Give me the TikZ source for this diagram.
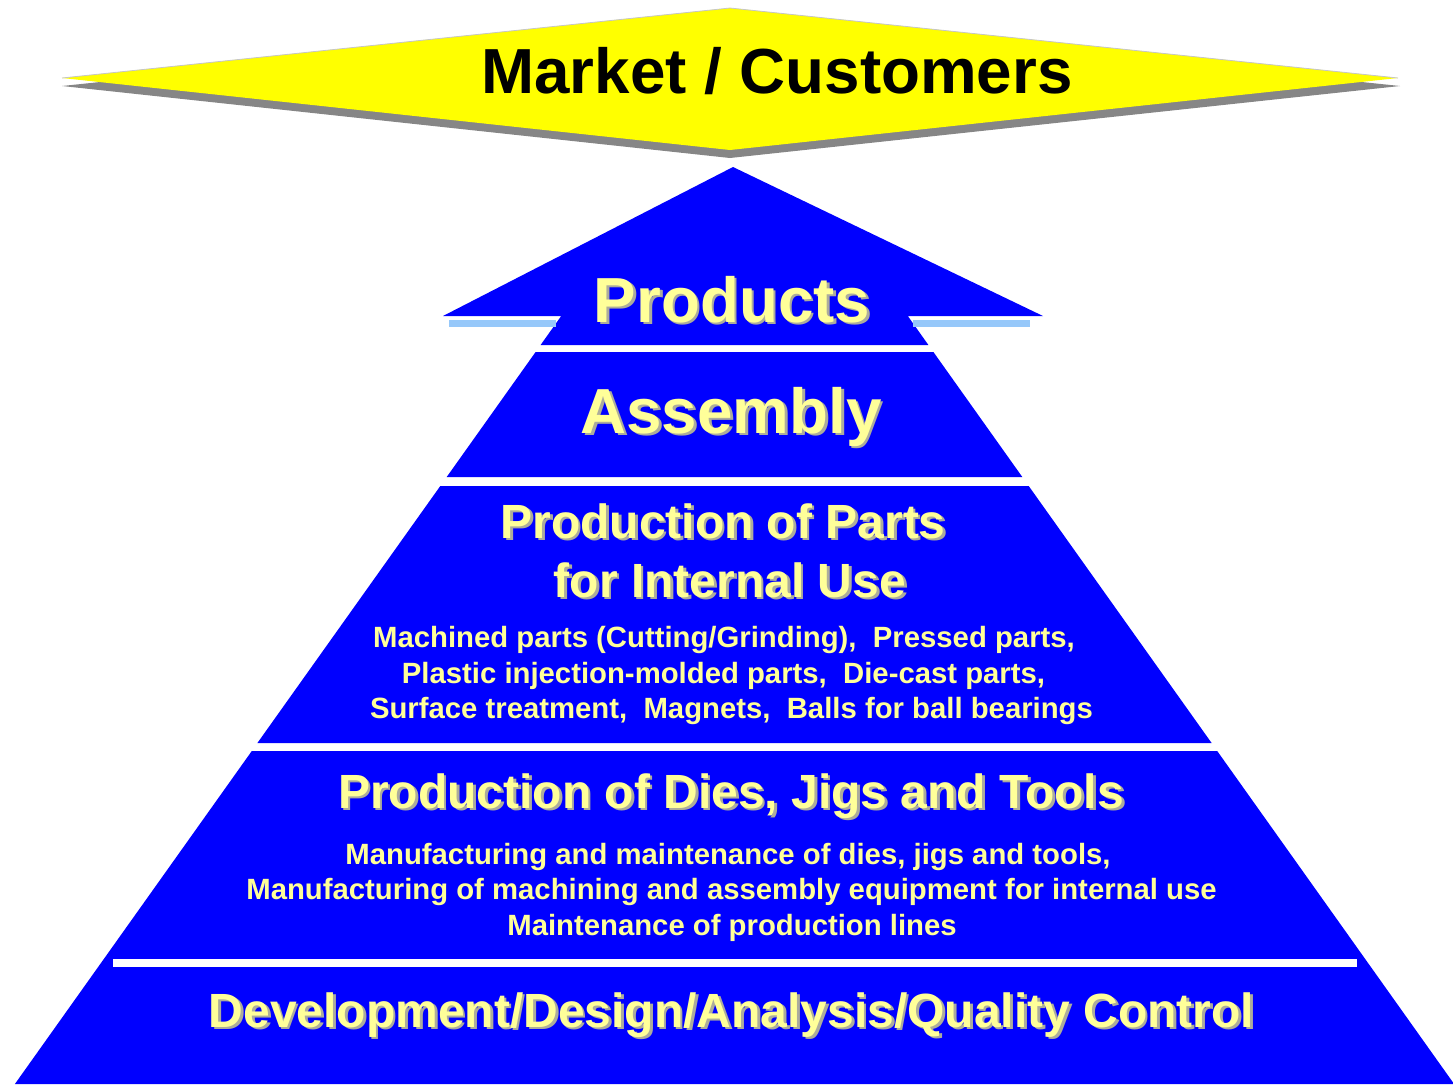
\documentclass[tikz,border=0pt]{standalone}
\usepackage{fontspec}
\setmainfont{Liberation Sans}
\definecolor{pyrblue}{RGB}{0,0,255}
\definecolor{txtyel}{RGB}{255,255,153}
\definecolor{txtsh}{RGB}{172,172,156}
\definecolor{mktyel}{RGB}{255,255,0}
\definecolor{wingbar}{RGB}{150,200,250}
\newcommand\dropsh[1]{\leavevmode\rlap{\kern2.7pt\raisebox{-2.7pt}{\textcolor{txtsh}{#1}}}#1}
\begin{document}
\begin{tikzpicture}[x=1pt,y=-1pt,
  layer/.style={fill=pyrblue,draw=none},
  bigfont/.style={font=\fontsize{63.7}{70}\selectfont\bfseries},
  midfont/.style={font=\fontsize{48}{55}\selectfont\bfseries},
  smallfont/.style={font=\fontsize{29.3}{34}\selectfont\bfseries},
  lbl/.style={anchor=base,inner sep=0pt,text=txtyel},
]
\useasboundingbox (0,0) rectangle (1453,1085);
% market / customers banner
\fill[gray!95!black,opacity=0.9] (62,86) -- (730,16) -- (1400,86) -- (730,158) -- cycle;
\fill[mktyel] (62,78) -- (730,8) -- (1398,78) -- (730,150) -- cycle;
\draw[gray!45,line width=0.8pt] (62,78) -- (730,8) -- (1398,78);
\node[bigfont,anchor=base,inner sep=0pt,text=black] (market) at (777,93) {Market / Customers};
% products arrow
\fill[layer] (443,316) -- (733,167) -- (1043,316) -- (907.8,316) -- (928.4,345) -- (540.6,345) -- (561.2,316) -- cycle;
\fill[wingbar] (449,320) rectangle (556,327);
\fill[wingbar] (913,320) rectangle (1030,327);
% assembly
\fill[layer] (535.6,352) -- (933.4,352) -- (1022.3,477) -- (446.7,477) -- cycle;
% parts
\fill[layer] (440.3,486) -- (1028.7,486) -- (1211.6,743) -- (257.4,743) -- cycle;
% dies + development
\fill[layer] (251.8,751) -- (1217.2,751) -- (1454.1,1084) -- (14.9,1084) -- cycle;
\fill[white] (113,958.5) rectangle (1357,966.5);
% texts
\node[bigfont,lbl] (products) at (732,322) {\dropsh{Products}};
\node[bigfont,lbl] (assembly) at (731,433) {\dropsh{Assembly}};
\node[midfont,lbl] (parts1) at (723,538) {\dropsh{Production of Parts}};
\node[midfont,lbl] (parts2) at (730,597) {\dropsh{for Internal Use}};
\node[smallfont,lbl] (pl1) at (724,647) {Machined parts (Cutting/Grinding),\ \ Pressed parts,};
\node[smallfont,lbl] (pl2) at (723.5,683) {Plastic injection-molded parts,\ \ Die-cast parts,};
\node[smallfont,lbl] (pl3) at (731.5,718) {Surface treatment,\ \ Magnets,\ \ Balls for ball bearings};
\node[midfont,lbl] (dies) at (731,808) {\dropsh{Production of Dies, Jigs and Tools}};
\node[smallfont,lbl] (dl1) at (728,864) {Manufacturing and maintenance of dies, jigs and tools,};
\node[smallfont,lbl] (dl2) at (731.5,899) {Manufacturing of machining and assembly equipment for internal use};
\node[smallfont,lbl] (dl3) at (732,935) {Maintenance of production lines};
\node[midfont,lbl] (dev) at (731.5,1027) {\dropsh{Development/Design/Analysis/Quality Control}};
\end{tikzpicture}
\end{document}
